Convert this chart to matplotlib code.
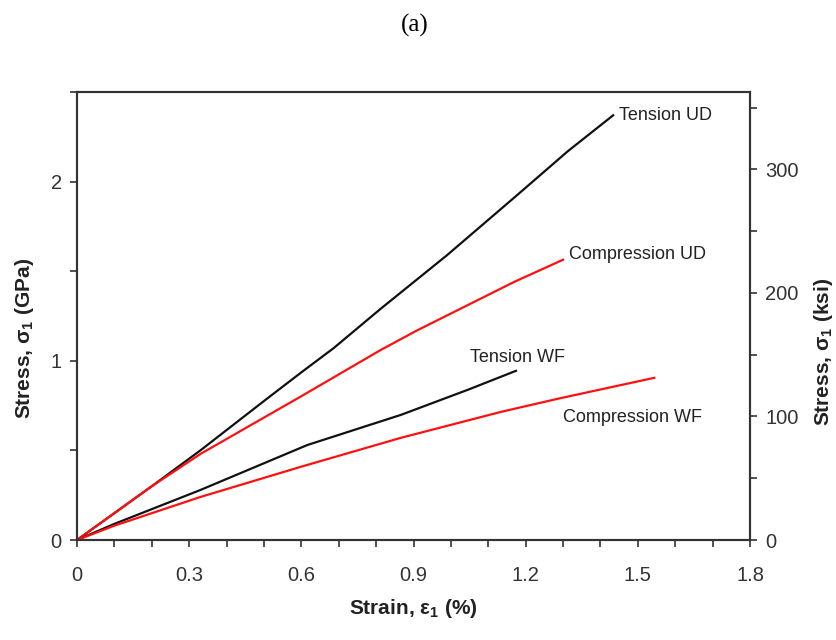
import numpy as np
import matplotlib
matplotlib.use("Agg")
import matplotlib.pyplot as plt
from matplotlib.ticker import MultipleLocator

plt.rcParams['font.family'] = ['Liberation Sans', 'DejaVu Sans']
plt.rcParams['mathtext.fontset'] = 'custom'
plt.rcParams['mathtext.rm'] = 'Liberation Sans'
plt.rcParams['mathtext.bf'] = 'Liberation Sans:bold'

# stress-strain curves, strain in %, stress in GPa
tension_ud_strain = [0, 0.10, 0.20, 0.33, 0.509, 0.606, 0.686, 0.812, 0.99, 1.169, 1.313, 1.434]
tension_ud_stress = [0, 0.15, 0.30, 0.50, 0.79, 0.945, 1.07, 1.29, 1.59, 1.91, 2.17, 2.37]

comp_ud_strain = [0, 0.10, 0.20, 0.33, 0.598, 0.812, 0.91, 1.169, 1.30]
comp_ud_stress = [0, 0.15, 0.30, 0.48, 0.80, 1.06, 1.17, 1.44, 1.564]

tension_wf_strain = [0, 0.10, 0.33, 0.616, 0.866, 1.045, 1.174]
tension_wf_stress = [0, 0.09, 0.279, 0.53, 0.698, 0.838, 0.944]

comp_wf_strain = [0, 0.10, 0.33, 0.598, 0.866, 1.134, 1.29, 1.544]
comp_wf_stress = [0, 0.08, 0.24, 0.408, 0.57, 0.715, 0.79, 0.905]

GPA_TO_KSI = 145.038

fig = plt.figure(figsize=(8.36, 6.4), dpi=100)
ax = fig.add_axes([77 / 836, 100 / 640, 673 / 836, 448 / 640])

ax.plot(tension_ud_strain, tension_ud_stress, color='#111111', lw=1.6)
ax.plot(comp_ud_strain, comp_ud_stress, color='#ff1010', lw=1.6)
ax.plot(tension_wf_strain, tension_wf_stress, color='#111111', lw=1.6)
ax.plot(comp_wf_strain, comp_wf_stress, color='#ff1010', lw=1.6)

lbl = dict(fontsize=13, color='#222222', va='center', ha='left')
ax.text(1.45, 2.369, 'Tension UD', **lbl)
ax.text(1.316, 1.592, 'Compression UD', **lbl)
ax.text(1.051, 1.017, 'Tension WF', **lbl)
ax.text(1.30, 0.682, 'Compression WF', **lbl)

ax.set_xlim(0, 1.8)
ax.set_ylim(0, 2.5)
ax.xaxis.set_major_locator(MultipleLocator(0.3))
ax.xaxis.set_minor_locator(MultipleLocator(0.1))
ax.yaxis.set_major_locator(MultipleLocator(1))
ax.yaxis.set_minor_locator(MultipleLocator(0.5))
ax.xaxis.set_major_formatter(plt.FuncFormatter(lambda v, p: '0' if v == 0 else f'{v:.1f}'))

ax2 = ax.twinx()
ax2.set_ylim(0, 2.5 * GPA_TO_KSI)
ax2.yaxis.set_major_locator(MultipleLocator(100))
ax2.yaxis.set_minor_locator(MultipleLocator(50))

for a in (ax, ax2):
    for s in a.spines.values():
        s.set_linewidth(1.5)
        s.set_color('#333333')
    a.tick_params(which='both', direction='out', length=5, width=1.2,
                  color='#333333', labelsize=14.5, labelcolor='#333333', pad=6)
ax.tick_params(axis='x', which='both', pad=14)

ax.set_xlabel(r'Strain, $\mathbf{\varepsilon_1}$ (%)', fontsize=15, fontweight='bold',
              color='#222222', labelpad=8)
ax.set_ylabel(r'Stress, $\mathbf{\sigma_1}$ (GPa)', fontsize=15, fontweight='bold',
              color='#222222')
ax.yaxis.set_label_coords(-0.061, 0.449)
ax2.set_ylabel(r'Stress, $\mathbf{\sigma_1}$ (ksi)', fontsize=15, fontweight='bold',
               color='#222222', rotation=90)
ax2.yaxis.set_label_coords(1.092, 0.42)

fig.text(415 / 836, 1 - 25 / 640, '(a)', family='Liberation Serif', fontsize=18,
         ha='center', va='center')

fig.savefig('out.png', dpi=100)
